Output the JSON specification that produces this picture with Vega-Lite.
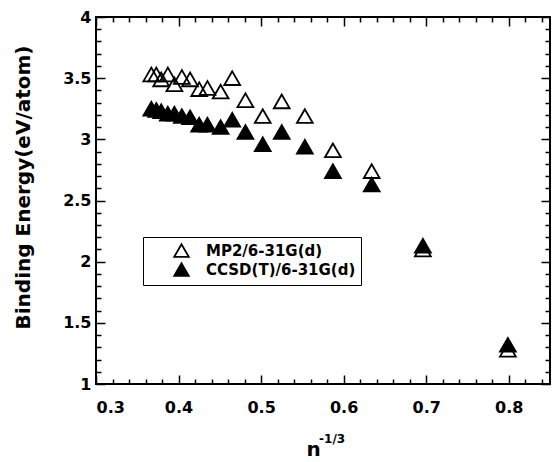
{
  "$schema": "https://vega.github.io/schema/vega-lite/v6.json",
  "width": 454,
  "height": 367,
  "autosize": {"type": "none"},
  "padding": {"left": 96, "top": 17, "right": 3, "bottom": 78},
  "background": "white",
  "config": {
    "view": {"stroke": "black", "strokeWidth": 2},
    "font": "DejaVu Sans",
    "axis": {
      "domain": false,
      "grid": false,
      "tickColor": "black",
      "tickWidth": 1.5,
      "labelFont": "DejaVu Sans",
      "labelFontWeight": "bold",
      "labelFontSize": 16,
      "labelColor": "black",
      "labelOverlap": false,
      "titleFont": "DejaVu Sans",
      "titleFontWeight": "bold",
      "titleColor": "black"
    }
  },
  "data": {
    "values": [
      {"n": 0.367, "E": 3.53, "method": "MP2/6-31G(d)"},
      {"n": 0.373, "E": 3.53, "method": "MP2/6-31G(d)"},
      {"n": 0.379, "E": 3.49, "method": "MP2/6-31G(d)"},
      {"n": 0.387, "E": 3.53, "method": "MP2/6-31G(d)"},
      {"n": 0.395, "E": 3.45, "method": "MP2/6-31G(d)"},
      {"n": 0.404, "E": 3.51, "method": "MP2/6-31G(d)"},
      {"n": 0.414, "E": 3.49, "method": "MP2/6-31G(d)"},
      {"n": 0.425, "E": 3.41, "method": "MP2/6-31G(d)"},
      {"n": 0.435, "E": 3.42, "method": "MP2/6-31G(d)"},
      {"n": 0.451, "E": 3.39, "method": "MP2/6-31G(d)"},
      {"n": 0.465, "E": 3.50, "method": "MP2/6-31G(d)"},
      {"n": 0.481, "E": 3.32, "method": "MP2/6-31G(d)"},
      {"n": 0.502, "E": 3.19, "method": "MP2/6-31G(d)"},
      {"n": 0.525, "E": 3.31, "method": "MP2/6-31G(d)"},
      {"n": 0.553, "E": 3.19, "method": "MP2/6-31G(d)"},
      {"n": 0.587, "E": 2.91, "method": "MP2/6-31G(d)"},
      {"n": 0.634, "E": 2.74, "method": "MP2/6-31G(d)"},
      {"n": 0.696, "E": 2.10, "method": "MP2/6-31G(d)"},
      {"n": 0.799, "E": 1.28, "method": "MP2/6-31G(d)"},
      {"n": 0.367, "E": 3.25, "method": "CCSD(T)/6-31G(d)"},
      {"n": 0.373, "E": 3.24, "method": "CCSD(T)/6-31G(d)"},
      {"n": 0.379, "E": 3.23, "method": "CCSD(T)/6-31G(d)"},
      {"n": 0.387, "E": 3.21, "method": "CCSD(T)/6-31G(d)"},
      {"n": 0.395, "E": 3.21, "method": "CCSD(T)/6-31G(d)"},
      {"n": 0.404, "E": 3.19, "method": "CCSD(T)/6-31G(d)"},
      {"n": 0.414, "E": 3.18, "method": "CCSD(T)/6-31G(d)"},
      {"n": 0.425, "E": 3.12, "method": "CCSD(T)/6-31G(d)"},
      {"n": 0.435, "E": 3.12, "method": "CCSD(T)/6-31G(d)"},
      {"n": 0.451, "E": 3.10, "method": "CCSD(T)/6-31G(d)"},
      {"n": 0.465, "E": 3.16, "method": "CCSD(T)/6-31G(d)"},
      {"n": 0.481, "E": 3.06, "method": "CCSD(T)/6-31G(d)"},
      {"n": 0.502, "E": 2.96, "method": "CCSD(T)/6-31G(d)"},
      {"n": 0.525, "E": 3.06, "method": "CCSD(T)/6-31G(d)"},
      {"n": 0.553, "E": 2.94, "method": "CCSD(T)/6-31G(d)"},
      {"n": 0.587, "E": 2.74, "method": "CCSD(T)/6-31G(d)"},
      {"n": 0.634, "E": 2.63, "method": "CCSD(T)/6-31G(d)"},
      {"n": 0.696, "E": 2.13, "method": "CCSD(T)/6-31G(d)"},
      {"n": 0.799, "E": 1.32, "method": "CCSD(T)/6-31G(d)"}
    ]
  },
  "layer": [
    {
      "mark": {"type": "point", "shape": "triangle-up", "filled": true, "size": 250, "stroke": "black", "strokeWidth": 1.8, "opacity": 1},
      "encoding": {
        "x": {
          "field": "n", "type": "quantitative",
          "scale": {"domain": [0.3, 0.85], "nice": false, "zero": false},
          "axis": {
            "orient": "bottom",
            "values": [0.3,0.32,0.34,0.36,0.38,0.4,0.42,0.44,0.46,0.48,0.5,0.52,0.54,0.56,0.58,0.6,0.62,0.64,0.66,0.68,0.7,0.72,0.74,0.76,0.78,0.8,0.82,0.84],
            "tickSize": {"condition": {"test": "round(datum.value*100) % 10 === 0", "value": -9}, "value": -5},
            "labelExpr": "round(datum.value*100) % 10 === 0 ? format(datum.value, '.1f') : ''",
            "labelPadding": 24,
            "title": "n",
            "titleFontSize": 20,
            "titleX": 217,
            "titleY": 71,
            "titleAlign": "center",
            "titleBaseline": "alphabetic"
          }
        },
        "y": {
          "field": "E", "type": "quantitative",
          "scale": {"domain": [1, 4], "nice": false, "zero": false},
          "axis": {
            "orient": "left",
            "values": [1,1.1,1.2,1.3,1.4,1.5,1.6,1.7,1.8,1.9,2,2.1,2.2,2.3,2.4,2.5,2.6,2.7,2.8,2.9,3,3.1,3.2,3.3,3.4,3.5,3.6,3.7,3.8,3.9,4],
            "tickSize": {"condition": {"test": "round(datum.value*10) % 5 === 0", "value": -9}, "value": -5},
            "labelExpr": "round(datum.value*10) % 5 === 0 ? format(datum.value, '~g') : ''",
            "labelPadding": 14,
            "title": "Binding Energy(eV/atom)",
            "titleFontSize": 20,
            "titleX": -73,
            "titleY": 170,
            "titleAngle": -90,
            "titleAlign": "center",
            "titleBaseline": "middle"
          }
        },
        "fill": {
          "field": "method", "type": "nominal",
          "scale": {"domain": ["MP2/6-31G(d)", "CCSD(T)/6-31G(d)"], "range": ["transparent", "black"]},
          "legend": {
            "orient": "none",
            "legendX": 47,
            "legendY": 220,
            "title": null,
            "strokeColor": "black",
            "fillColor": "white",
            "padding": 5,
            "symbolOffset": 25,
            "symbolType": "triangle-up",
            "symbolSize": 210,
            "symbolStrokeColor": "black",
            "symbolStrokeWidth": 1.8,
            "labelFont": "DejaVu Sans",
            "labelFontWeight": "bold",
            "labelFontSize": 15,
            "labelColor": "black",
            "labelOffset": 16,
            "rowPadding": -3
          }
        }
      }
    },
    {
      "mark": {"type": "point", "opacity": 0},
      "encoding": {
        "x": {
          "field": "n", "type": "quantitative",
          "axis": {
            "orient": "top",
            "values": [0.3,0.32,0.34,0.36,0.38,0.4,0.42,0.44,0.46,0.48,0.5,0.52,0.54,0.56,0.58,0.6,0.62,0.64,0.66,0.68,0.7,0.72,0.74,0.76,0.78,0.8,0.82,0.84],
            "tickSize": {"condition": {"test": "round(datum.value*100) % 10 === 0", "value": -9}, "value": -5},
            "labels": false,
            "title": null
          }
        },
        "y": {
          "field": "E", "type": "quantitative",
          "axis": {
            "orient": "right",
            "values": [1,1.1,1.2,1.3,1.4,1.5,1.6,1.7,1.8,1.9,2,2.1,2.2,2.3,2.4,2.5,2.6,2.7,2.8,2.9,3,3.1,3.2,3.3,3.4,3.5,3.6,3.7,3.8,3.9,4],
            "tickSize": {"condition": {"test": "round(datum.value*10) % 5 === 0", "value": -9}, "value": -5},
            "labels": false,
            "title": null
          }
        }
      }
    },
    {
      "data": {"values": [{"n": 0.586, "E": 0.52, "t": "-1/3"}]},
      "mark": {"type": "text", "font": "DejaVu Sans", "fontWeight": "bold", "fontSize": 12, "align": "center", "baseline": "alphabetic", "color": "black"},
      "encoding": {
        "x": {"field": "n", "type": "quantitative", "axis": null},
        "y": {"field": "E", "type": "quantitative", "axis": null},
        "text": {"field": "t"}
      }
    }
  ],
  "resolve": {"axis": {"x": "independent", "y": "independent"}}
}
